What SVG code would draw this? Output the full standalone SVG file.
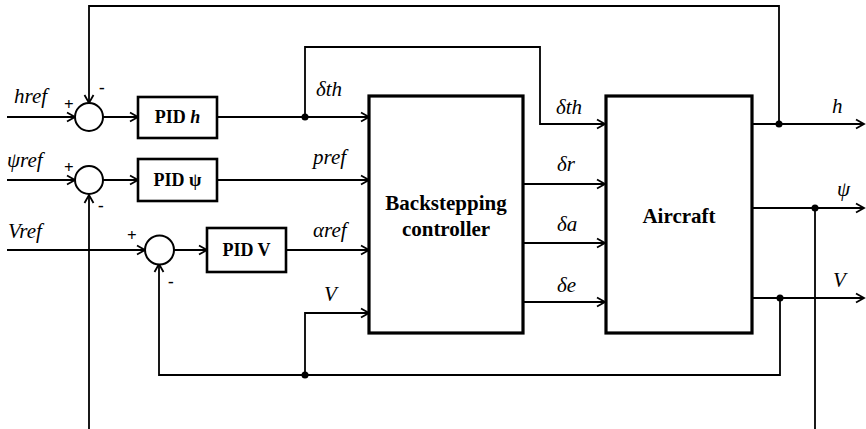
<svg xmlns="http://www.w3.org/2000/svg" width="866" height="429" viewBox="0 0 866 429">
<style>
.c{fill:none;stroke:#000;stroke-width:1.8}
.blk{fill:#fff;stroke:#000;stroke-width:3.2}
.pid{fill:#fff;stroke:#000;stroke-width:2.6}
.sum{fill:#fff;stroke:#000;stroke-width:2}
text{font-family:"Liberation Serif","Times New Roman","DejaVu Serif",serif}
.lab{font-style:italic;font-size:21px}
.sg{font-size:17px;font-weight:bold}
.bt{font-weight:bold;text-anchor:middle}
</style>
<defs>
<marker id="a" markerUnits="userSpaceOnUse" markerWidth="12" markerHeight="12" refX="10" refY="6" orient="auto">
<path d="M2,1.5 L10,6 L2,10.5" fill="none" stroke="#000" stroke-width="1.8"/>
</marker>
</defs>
<g id="connectors" class="c">
<path d="M7,117 H75" marker-end="url(#a)"/>
<path d="M103,117 H138" marker-end="url(#a)"/>
<path d="M217,117 H369" marker-end="url(#a)"/>
<path d="M305,117 V47 H540 V124 H605" marker-end="url(#a)"/>
<path d="M7,180 H75" marker-end="url(#a)"/>
<path d="M103,180 H138" marker-end="url(#a)"/>
<path d="M217,180 H369" marker-end="url(#a)"/>
<path d="M7,250 H145" marker-end="url(#a)"/>
<path d="M174,250 H207" marker-end="url(#a)"/>
<path d="M286,250 H369" marker-end="url(#a)"/>
<path d="M523,184 H605" marker-end="url(#a)"/>
<path d="M523,243 H605" marker-end="url(#a)"/>
<path d="M523,302 H605" marker-end="url(#a)"/>
<path d="M752,124 H864" marker-end="url(#a)"/>
<path d="M752,208 H864" marker-end="url(#a)"/>
<path d="M752,298 H864" marker-end="url(#a)"/>
<path d="M779,124 V6 H89 V103" marker-end="url(#a)"/>
<path d="M815,208 V429"/>
<path d="M89,429 V195" marker-end="url(#a)"/>
<path d="M780,298 V375 H159 V264" marker-end="url(#a)"/>
<path d="M305,375 V313 H369" marker-end="url(#a)"/>
<g fill="#000" stroke="none">
<circle cx="305" cy="117" r="3.5"/>
<circle cx="779" cy="124" r="3.5"/>
<circle cx="815" cy="208" r="3.5"/>
<circle cx="780" cy="298" r="3.5"/>
<circle cx="305" cy="375" r="3.5"/>
</g>
</g>
<g id="sum_h"><circle class="sum" cx="89" cy="117" r="14"/><text class="sg" x="64" y="110">+</text><text class="sg" x="99" y="93">-</text></g>
<g id="sum_psi"><circle class="sum" cx="89" cy="180" r="14"/><text class="sg" x="64" y="173">+</text><text class="sg" x="98" y="211">-</text></g>
<g id="sum_V"><circle class="sum" cx="159.5" cy="250" r="14.5"/><text class="sg" x="127" y="241">+</text><text class="sg" x="168" y="287">-</text></g>
<g id="pid_h"><rect class="pid" x="138" y="97" width="79" height="41"/><text class="bt" x="177.5" y="123" font-size="18">PID <tspan font-style="italic">h</tspan></text></g>
<g id="pid_psi"><rect class="pid" x="138" y="159" width="79" height="42"/><text class="bt" x="177.5" y="186" font-size="18">PID ψ</text></g>
<g id="pid_V"><rect class="pid" x="207" y="228" width="79" height="44"/><text class="bt" x="246.5" y="256" font-size="18">PID V</text></g>
<g id="backstepping"><rect class="blk" x="369" y="96" width="154" height="237"/><text class="bt" x="446" y="210" font-size="21">Backstepping</text><text class="bt" x="446" y="236" font-size="21">controller</text></g>
<g id="aircraft"><rect class="blk" x="606" y="96" width="146" height="237"/><text class="bt" x="679" y="223" font-size="21">Aircraft</text></g>
<g id="labels" class="lab">
<text x="14" y="103">href</text>
<text x="7" y="167">ψref</text>
<text x="8" y="238">Vref</text>
<text x="316" y="96">δth</text>
<text x="313" y="164">pref</text>
<text x="313" y="237">αref</text>
<text x="324" y="301">V</text>
<text x="556" y="114">δth</text>
<text x="557" y="171">δr</text>
<text x="557" y="231">δa</text>
<text x="557" y="292">δe</text>
<text x="832" y="113">h</text>
<text x="837" y="196">ψ</text>
<text x="833" y="287">V</text>
</g>
</svg>
